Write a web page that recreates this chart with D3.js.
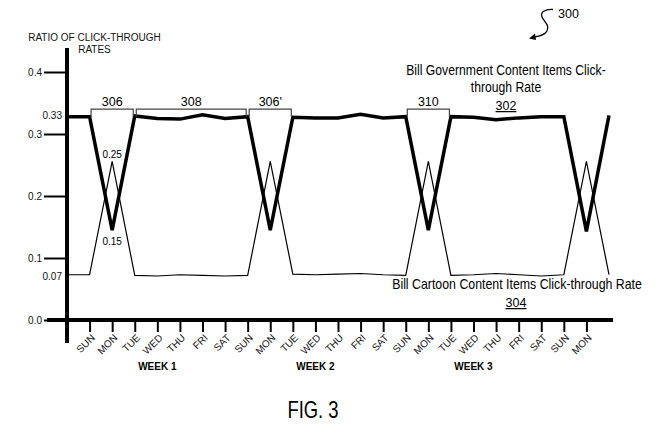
<!DOCTYPE html>
<html>
<head>
<meta charset="utf-8">
<script src="https://cdn.jsdelivr.net/npm/d3@7"></script>
<style>
  body { margin: 0; background: #fff; }
  svg { display: block; font-family: "Liberation Sans", Arial, sans-serif; }
</style>
</head>
<body>
<div id="chart"></div>
<script>
var width = 662,
    height = 432;

// day positions: -1 is the start at the y axis, 23 is the last point after MON
var dayIndex = d3.range(-1, 24);
var dayLabels = ["SUN", "MON", "TUE", "WED", "THU", "FRI", "SAT",
                 "SUN", "MON", "TUE", "WED", "THU", "FRI", "SAT",
                 "SUN", "MON", "TUE", "WED", "THU", "FRI", "SAT",
                 "SUN", "MON"];
var govRate = [0.328, 0.328, 0.145, 0.329, 0.325, 0.324, 0.331, 0.325, 0.328,
               0.145, 0.327, 0.326, 0.326, 0.332, 0.326, 0.328,
               0.145, 0.328, 0.327, 0.323, 0.326, 0.328, 0.328,
               0.143, 0.330];
var cartoonRate = [0.073, 0.073, 0.256, 0.072, 0.071, 0.073, 0.072, 0.071, 0.072,
                   0.256, 0.074, 0.073, 0.074, 0.075, 0.073, 0.072,
                   0.256, 0.072, 0.073, 0.075, 0.073, 0.071, 0.073,
                   0.256, 0.073];
var weekLabels = ["WEEK 1", "WEEK 2", "WEEK 3"];
var weekCenters = [3, 10, 17];
var yTicks = [0, 0.1, 0.2, 0.3, 0.4];
var yMarks = [0.33, 0.07];
var bracketLabels = ["306", "308", "306'", "310"];
var bracketFrom = [0, 2, 7, 14];
var bracketTo = [2, 7, 9, 16];

var svg = d3.select("#chart").append("svg")
    .attr("width", width)
    .attr("height", height);

var x = d3.scaleLinear().domain([-1, 23]).range([67, 609]);
var y = d3.scaleLinear().domain([0, 0.4]).range([320, 72]);

// y axis ticks
var yAxis = svg.append("g")
    .attr("transform", "translate(67,0)")
    .call(d3.axisLeft(y).tickValues(yTicks).tickSize(23).tickPadding(2).tickFormat(d3.format(".1f")));
yAxis.select(".domain").remove();
yAxis.selectAll("line").attr("stroke", "#000").attr("stroke-width", 2);
yAxis.selectAll("text").attr("font-size", 10).attr("fill", "#111");

var yAxis2 = svg.append("g")
    .attr("transform", "translate(67,0)")
    .call(d3.axisLeft(y).tickValues(yMarks).tickSize(0).tickPadding(5).tickFormat(d3.format(".2f")));
yAxis2.select(".domain").remove();
yAxis2.selectAll("text").attr("font-size", 10).attr("fill", "#111");

// x axis ticks
var xAxis = svg.append("g")
    .attr("transform", "translate(0,321)")
    .call(d3.axisBottom(x).tickValues(d3.range(23)).tickSize(11).tickFormat(function (i) { return dayLabels[i]; }));
xAxis.select(".domain").remove();
xAxis.selectAll("line").attr("stroke", "#000").attr("stroke-width", 2);
xAxis.selectAll("text")
    .attr("font-size", 10)
    .attr("fill", "#111")
    .attr("y", 0)
    .attr("dy", "0.35em")
    .attr("text-anchor", "end")
    .attr("transform", "translate(3,15) rotate(-45)");

// main axis lines
svg.append("line")
    .attr("x1", x(-1)).attr("x2", x(-1))
    .attr("y1", 48).attr("y2", 343)
    .attr("stroke", "#000").attr("stroke-width", 4);
svg.append("line")
    .attr("x1", 47).attr("x2", 613)
    .attr("y1", y(0)).attr("y2", y(0))
    .attr("stroke", "#000").attr("stroke-width", 4);

svg.selectAll(".week")
    .data(weekLabels)
    .enter().append("text")
    .attr("class", "week")
    .attr("x", function (d, i) { return x(weekCenters[i]); })
    .attr("y", 370)
    .attr("text-anchor", "middle")
    .attr("font-size", 10)
    .attr("font-weight", "bold")
    .text(function (d) { return d; });

// axis title
var title = svg.append("text")
    .attr("text-anchor", "middle")
    .attr("font-size", 10)
    .attr("fill", "#111");
title.append("tspan").attr("x", 94.5).attr("y", 40.5).text("RATIO OF CLICK-THROUGH");
title.append("tspan").attr("x", 94.5).attr("y", 52.5).text("RATES");

// lines
var line = d3.line()
    .x(function (d, i) { return x(dayIndex[i]); })
    .y(function (d) { return y(d); });

svg.append("path")
    .datum(cartoonRate)
    .attr("d", line)
    .attr("fill", "none")
    .attr("stroke", "#000")
    .attr("stroke-width", 1.2);

svg.append("path")
    .datum(govRate)
    .attr("d", line)
    .attr("fill", "none")
    .attr("stroke", "#000")
    .attr("stroke-width", 3.5);

// brackets
var bracket = svg.selectAll(".bracket")
    .data(bracketLabels)
    .enter().append("g")
    .attr("class", "bracket");

bracket.append("path")
    .attr("d", function (d, i) {
        var x0 = x(bracketFrom[i]) + 1.5, x1 = x(bracketTo[i]) - 1.5;
        var top = y(0.34), bot = y(0.328);
        return "M" + x0 + "," + bot + "V" + top + "H" + x1 + "V" + bot;
    })
    .attr("fill", "none")
    .attr("stroke", "#444")
    .attr("stroke-width", 1.2);

bracket.append("text")
    .attr("x", function (d, i) { return (x(bracketFrom[i]) + x(bracketTo[i])) / 2; })
    .attr("y", 106)
    .attr("text-anchor", "middle")
    .attr("font-size", 12.5)
    .text(function (d) { return d; });

// point labels
svg.append("text")
    .attr("x", x(1)).attr("y", 158)
    .attr("text-anchor", "middle").attr("font-size", 10)
    .text("0.25");
svg.append("text")
    .attr("x", x(1)).attr("y", 245)
    .attr("text-anchor", "middle").attr("font-size", 10)
    .text("0.15");

// series labels (narrowed type, as in the drawing)
var govLabel = svg.append("g")
    .attr("transform", "translate(506,0) scale(0.87,1)")
    .append("text")
    .attr("text-anchor", "middle")
    .attr("font-size", 14);
govLabel.append("tspan").attr("x", 0).attr("y", 75).text("Bill Government Content Items Click-");
govLabel.append("tspan").attr("x", 0).attr("y", 92).text("through Rate");
svg.append("text")
    .attr("x", 506).attr("y", 110)
    .attr("text-anchor", "middle").attr("font-size", 12.5)
    .attr("text-decoration", "underline")
    .text("302");

svg.append("g")
    .attr("transform", "translate(517,0) scale(0.87,1)")
    .append("text")
    .attr("x", 0).attr("y", 289)
    .attr("text-anchor", "middle")
    .attr("font-size", 14.2)
    .text("Bill Cartoon Content Items Click-through Rate");
svg.append("text")
    .attr("x", 516).attr("y", 307)
    .attr("text-anchor", "middle").attr("font-size", 12.5)
    .attr("text-decoration", "underline")
    .text("304");

// figure reference
svg.append("text")
    .attr("x", 558).attr("y", 17.5)
    .attr("font-size", 12.5)
    .text("300");
svg.append("path")
    .attr("d", "M553,9.5 C545,9 540,12 542,17 C544,22 550,25 547,31 C545,35 540,36 534,37")
    .attr("fill", "none")
    .attr("stroke", "#000")
    .attr("stroke-width", 1.3);
svg.append("path")
    .attr("d", "M529,38.5 L535,33.5 L536,40 Z")
    .attr("fill", "#000");

svg.append("g")
    .attr("transform", "translate(313,0) scale(0.8,1)")
    .append("text")
    .attr("x", 0).attr("y", 418)
    .attr("text-anchor", "middle")
    .attr("font-size", 23)
    .text("FIG. 3");
</script>
</body>
</html>
